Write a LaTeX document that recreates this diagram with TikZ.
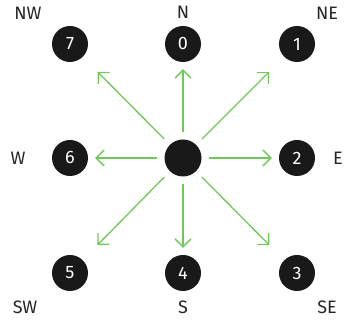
\documentclass[tikz,border=0pt]{standalone}
\usepackage{fontspec}
\setmainfont{Fira Sans}
\usetikzlibrary{arrows.meta,positioning}
\definecolor{arrowgreen}{RGB}{112,200,92}

\begin{document}
\begin{tikzpicture}[x=1pt,y=-1pt,
                    dot/.style={circle, fill=black!90, minimum size=36pt, inner sep=0pt, text=white, font=\fontsize{18}{18}\selectfont},
                    centre/.style={circle, fill=black!90, minimum size=37pt, inner sep=0pt},
                    dirlabel/.style={font=\fontsize{18}{18}\selectfont, text=black!85},
                    myarrow/.style={arrowgreen, line width=1.3pt, -{Straight Barb[length=8pt,width=16pt,line width=1.3pt]}},
                   ]

\useasboundingbox (0,0) rectangle (346,320);

\node[centre] (c) at (183,158) {};

\node[dot] (n0) at (183,44) {0};
\node[dot] (n1) at (297,44) {1};
\node[dot] (n2) at (297,158) {2};
\node[dot] (n3) at (297,273) {3};
\node[dot] (n4) at (183,273) {4};
\node[dot] (n5) at (70,273) {5};
\node[dot] (n6) at (70,158) {6};
\node[dot] (n7) at (70,44) {7};

\node[dirlabel] (lN)  at (183,12) {N};
\node[dirlabel] (lNE) at (327,13) {NE};
\node[dirlabel] (lE)  at (338,158) {E};
\node[dirlabel] (lSE) at (327,307) {SE};
\node[dirlabel] (lS)  at (183,307) {S};
\node[dirlabel] (lSW) at (25,307) {SW};
\node[dirlabel] (lW)  at (18,158) {W};
\node[dirlabel] (lNW) at (28,13) {NW};

% straight arrows
\foreach \i in {0,2,4,6}
  \draw[myarrow, shorten <=7pt, shorten >=7pt] (c) -- (n\i);
% diagonal arrows
\foreach \i in {1,3,5,7}
  \draw[myarrow, shorten <=8pt, shorten >=21pt] (c) -- (n\i);

\end{tikzpicture}
\end{document}
